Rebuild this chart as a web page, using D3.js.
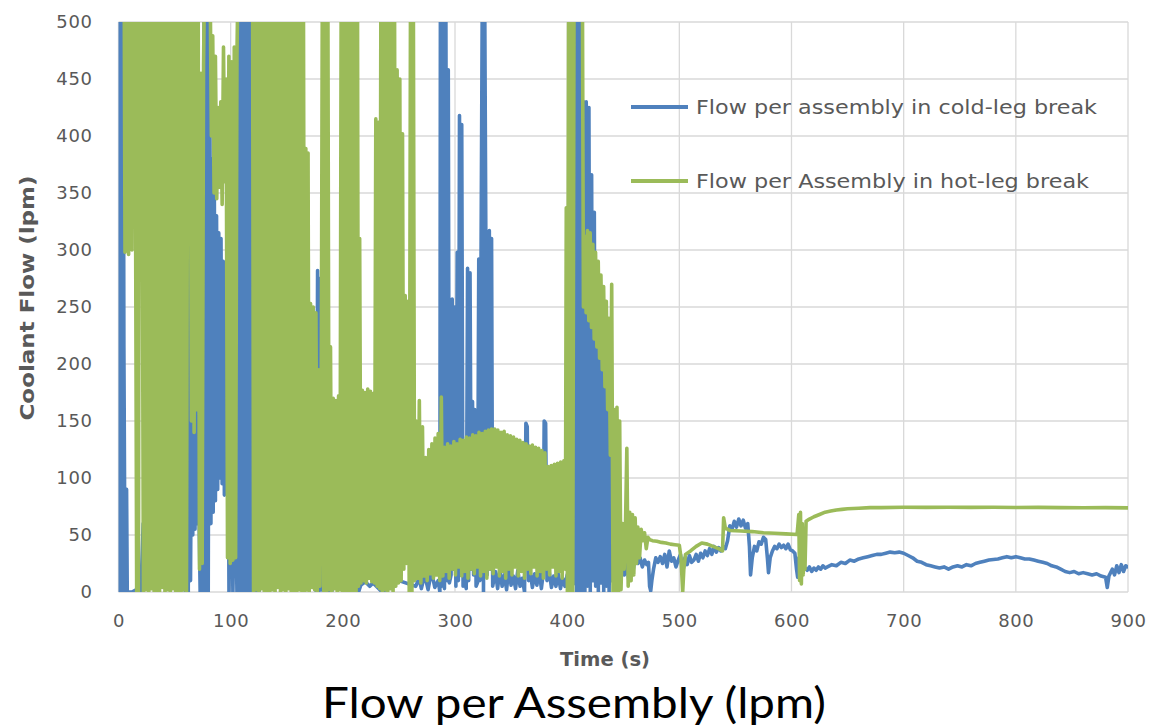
<!DOCTYPE html>
<html><head><meta charset="utf-8">
<script src="https://cdn.jsdelivr.net/npm/d3@7"></script>
<style>body{margin:0;background:#fff}</style>
</head><body>
<svg id="c" width="1150" height="727"></svg>
<script>
// ---- tick labels / categories ----
const xTicks = [0,100,200,300,400,500,600,700,800,900];
const yTicks = [0,50,100,150,200,250,300,350,400,450,500];
const seriesNames = ["Flow per assembly in cold-leg break","Flow per Assembly in hot-leg break"];
const chartTitle = "Flow per Assembly (lpm)";
const xTitle = "Time (s)";
const yTitle = "Coolant Flow (lpm)";

// ---- cold-leg break series [time s, flow lpm] (values above 500 run off the axis) ----
const coldEarly = [[0,0],[0.6,520],[1.2,0],[1.8,530],[2.4,2],[3.0,540],[3.6,0],[4.2,520],[4.8,215],[5.4,90],[6.0,45],[6.6,0],[7.2,90],[7.8,0],[12,0],[16,2],[20,0],[22,60],[30,40],[40,80],[50,20],[60,0],
[61.2,540],[62.2,0],[63.2,540],[64.2,10],[65.2,175],[66.2,50],[67.2,170],[68.2,55],[69.2,160],[70.2,60],[71.5,90],[72.8,0],[74.0,85],[75.2,0],[76.4,540],[77.6,0],[78.8,540],[80.0,0],[81.2,540],[82.4,60],[83.4,380],[84.4,70],[85.4,360],[86.4,80],[87.4,330],[88.4,90],[89.4,315],[90.4,100],[91.4,310],[92.4,95],[93.4,290],[94.4,85],[95.4,270],[96.4,90],[97.4,245],[98.5,0],[100,150],[102,0],[104,120],[105.6,0],[106.6,540],[107.8,0],[109.0,540],[110.2,0],[111.4,540],[112.6,0],[113.8,540],[115.0,0],[116.2,540],[117.4,0],[118.6,540],[119.8,0]];
const coldMid = [[125,0],[140,50],[155,0],[170,20],[176.5,0],[177.5,282],[178.5,0],[179.5,275],[180.5,2],[190,0],[200,40],[214,0],[216,6],[220,9],[224,5],[227,8],[235,0],[250,10],[265,5],[268,12],[270,3],[273,15],[276,2],[279,18],[282,4],[285,10],[286.5,0],[287.0,540],[288.2,5],[289.4,540],[290.6,3],[291.8,540],[293.0,10],[294.0,458],[295.0,8],[296.5,15],[297.5,257],[298.5,20],[299.5,250],[300.8,5],[302.0,298],[303.0,10],[304.0,418],[305.0,15],[306.0,410],[307.2,5],[308.5,12],[310.0,3],[311.2,284],[312.2,10],[313.4,280],[314.6,20],[315.6,167],[316.6,15],[317.6,160],[318.8,5],[320.0,8],[321.2,292],[322.2,10],[323.2,290],[324.4,540],[325.4,0],[326.4,540],[327.6,289],[328.6,15],[329.6,285],[330.6,317],[331.6,20],[332.6,310],[333.6,5],
[336,18],[338,3],[340,20],[342,5],[344,15],[346,2],[348,22],[350,6],[352,14],[354,3],[356,19],[358,5],[360,12],[362,0],[363.2,148],[364.4,145],[365.6,10],[367,18],[369,4],[371,16],[373,6],[375,20],[377,3],[378.5,15],[379.5,150],[380.8,148],[382,10],[384,18],[386,4],[388,14],[390,5],[392,16],[394,3],[396,12],[398,5],[400,15],[403,4],[406,8]];
const coldLate = [[407.2,540],[408.4,0],[409.6,540],[410.8,0],[412.0,540],[413.2,0],[414.6,430],[415.8,0],[417.0,430],[418.2,5],[419.4,425],[420.6,0],[421.8,366],[423.0,10],[424.2,333],[425.4,5],[426.6,238],[427.8,0],[429.0,235],[430.2,8],[431.4,220],[432.6,0],[433.8,183],[435.0,5],[436.2,160],[437.4,0],[438.6,124],[439.8,10],[441.0,80],[442.2,5],[443.4,51],[444.6,8],[445.8,28],
[447,13],[449,28],[451,15],[453,25],[455,10],[457,30],[459,20],[461,34],[463,25],[465,30],[467,22],[469,28],[471,24],[472.5,26],[473.5,5],[474.5,1],[475.5,10],[477,20],[479,30],[481,26],[483,31],[485,25],[487,33],[489,22],[491,36],[493,27],[495,30],[497,22],[499,28],
[501,33],[503,17],[505,30],[507,24],[509,32],[511,26],[513,28],[515,33],[517,27],[519,34],[521,30],[523,36],[525,32],[527,38],[529,33],[531,40],[533,35],[535,39],[537,36],[539,40],[541,38],
[543,45],[545,58],[547,55],[549,62],[551,57],[553,64],[555,58],[557,63],[559,56],[561,60],[562.5,40],[563.5,15],[565,30],[567,40],[569,36],[571,44],[573,42],[575,48],[577,46],[578.5,30],[579.5,17],[581,30],
[583,36],[585,40],[587,38],[589,42],[591,39],[593,41],[595,38],[597,42],[599,37],[601,36],[603,34],[604.5,20],[605.5,13],[606.5,30],[608,20],[610,24],
[612,21],[614,19],[616,22],[618,18],[620,21],[622,19],[624,22],[626,20],[628,23],[630,21],[632,22],
[636,24],[640,23],[644,26],[648,25],[652,28],[656,27],[660,29],[664,30],[668,31],[672,32],[676,33],[680,33],[684,34],[688,35],[692,34.5],[696,35],[700,34],
[704,32],[708,30],[712,27],[716,26],[720,24],[724,23],[728,22],[732,21],[736,22],[740,20],[744,22],[748,23],[752,22],[756,24],[760,23],[764,25],[768,26],[772,27],[776,28],[780,28.5],[784,29],[788,30],[792,31],[796,30],[800,31],
[804,30],[808,29],[812,29],[816,28],[820,27],[824,26],[828,25],[832,23],[836,22],[840,20],[844,18],[848,17],[852,18],[856,16],[860,17],[864,16],[868,15],[872,16],[876,14],[880,13],[881.5,4],[883,14],[886,20],[888,15],[890,23],[892,17],[894,24],[896,18],[898,23],[900,22]];

// ---- hot-leg break series [time s, flow lpm] ----
const hotEarly = [[5.0,560],[5.8,298],[6.6,540],[7.4,305],[8.2,530],[9.0,296],[9.8,545],[10.6,302],[11.4,520],[12.0,300],[12.6,560],[14.5,580],[16.2,0],[17.0,560],[17.8,0],[18.6,560],[20.5,590],
[22.2,0],[23.4,560],[24.6,2],[25.8,560],[27.0,0],[28.2,560],[29.4,3],[30.6,560],[31.8,0],[33.0,560],[34.2,1],[35.4,560],[36.6,0],[37.8,560],[39.0,4],[40.2,560],[41.4,0],[42.6,560],[43.8,2],[45.0,560],[46.2,0],[47.4,560],[48.6,3],[49.8,560],[51.0,0],[52.2,560],[53.4,1],[54.6,560],[55.8,0],[57.0,560],[58.2,2],[59.4,560],[60.6,0],[61.8,560],[63.5,600],
[65.0,150],[66.2,560],[67.4,140],[68.6,560],[69.8,160],[71.0,540],[72.2,20],[73.4,455],[74.6,25],[75.8,462],[77.0,560],[81.5,560],[82.8,400],[84.0,488],[85.2,350],[86.4,470],[87.6,345],[88.8,425],[90.0,355],[91.2,430],[92.4,340],[93.6,478],[94.8,360],[96.0,450],[97.2,30],[98.4,470],[99.6,25],[100.8,465],[102.0,28],[103.2,478],[104.4,30],[105.6,470],[107.0,570],[119.5,570]];
const hotMid = [[120.4,0],[121.6,560],[122.8,2],[124.0,560],[125.2,0],[126.4,560],[127.6,3],[128.8,560],[130.0,0],[131.2,560],[132.4,1],[133.6,560],[134.8,0],[136.0,560],[137.2,2],[138.4,560],[139.6,0],[140.8,560],[142.0,4],[143.2,560],[144.4,0],[145.6,560],[146.8,2],[148.0,560],[149.2,0],[150.4,560],[151.6,3],[152.8,560],[154.0,0],[155.2,560],[156.4,1],[157.6,560],[158.8,0],[160.0,560],[161.2,2],[162.4,560],[163.6,0],[164.8,560],[166.0,0],
[167.0,389],[168.0,2],[169.0,385],[170.0,0],[171.2,253],[172.4,4],[173.6,250],[174.8,2],[176.0,245],[177.2,0],[178.4,195],[179.6,5],[180.8,190],[181.8,560],[183.0,0],[184.2,560],[185.4,0],[186.6,560],[187.8,2],[189.0,215],[190.2,0],[191.4,170],[192.6,3],[193.8,168],[195.0,0],[196.2,172],[197.4,2],
[198.6,560],[199.8,0],[201.0,560],[202.2,0],[203.4,560],[204.6,0],[205.8,560],[207.0,0],[208.2,560],[209.4,0],[210.6,560],[211.8,0],[213.0,560],[214.0,5],[215.0,310],[216.2,8],[217.4,177],[218.6,10],[219.8,175],[221.0,8],[222.2,178],[223.4,12],[224.6,176],[225.8,9],[227.0,174],[228.2,8],[229.4,415],[230.6,5],[231.8,412],[232.8,3],
[234.0,560],[235.2,0],[236.4,560],[237.6,2],[238.8,560],[240.0,0],[241.2,560],[242.4,3],[243.6,560],[244.8,0],[246.0,560],[247.2,5],[248.4,458],[249.6,8],[250.8,450],[252.0,10],[253.2,402],[254.4,20],[255.6,260],[256.8,25],[258.0,255],[259.2,0],[260.4,560],[261.6,0],[262.8,560]];
const hotOscillation = [[264.0,10],[265.4,150],[266.8,12],[268.2,168],[269.6,8],[271.0,145],[272.4,14],[273.8,118],[275.2,10],[276.6,125],[278.0,16],[279.4,130],[280.8,12],[282.2,135],[283.6,15],[285.0,139],[286.4,10],[287.8,171],[289.2,14],[290.6,127],[292.0,18],[293.4,130],[294.8,12],[296.2,128],[297.6,20],[299.0,132],[300.4,15],[301.8,130],[303.2,22],[304.6,134],[306.0,14],[307.4,133],[308.8,18],[310.2,136],[311.6,12],[313.0,135],[314.4,20],[315.8,138],[317.2,16],[318.6,137],[320.0,22],[321.4,140],[322.8,14],[324.2,139],[325.6,18],[327.0,141],[328.4,12],[329.8,142],[331.2,20],[332.6,143],[334.0,16],[335.4,143],[336.8,22],[338.2,142],[339.6,14],[341.0,140],[342.4,18],[343.8,141],[345.2,12],[346.6,138],[348.0,20],[349.4,137],[350.8,15],[352.2,136],[353.6,22],[355.0,134],[356.4,14],[357.8,133],[359.2,18],[360.6,131],[362.0,12],[363.4,130],[364.8,20],[366.2,128],[367.6,16],[369.0,129],[370.4,22],[371.8,127],[373.2,14],[374.6,126],[376.0,18],[377.4,124],[378.8,12],[380.2,122],[381.6,20],[383.0,110],[384.4,15],[385.8,111],[387.2,22],[388.6,112],[390.0,14],[391.4,113],[392.8,18],[394.2,114],[395.6,12],[397.0,115],[398.4,20],[399.2,337],[400.2,0]];
const hotLate = [[401.4,560],[402.6,0],[403.8,560],[405.0,0],[406.2,560],[410,580],[413.5,560],[414.5,250],[415.7,312],[416.9,245],[418.1,317],[419.3,238],[420.5,315],[421.7,232],[422.9,305],[424.1,222],[425.3,298],[426.5,215],[427.7,290],[428.9,205],[430.1,278],[431.3,195],[432.5,268],[433.7,180],[434.9,255],[436.1,160],[437.3,240],[438.5,120],[439.7,270],[440.9,0],
[442.0,160],[443.2,0],[444.4,162],[445.6,0],[446.8,150],[448.0,2],[449.5,60],[450.8,20],[452.0,58],[453.2,126],[454.4,5],[455.8,70],[457.0,10],[458.2,68],[459.4,15],[460.6,65],[461.8,25],[463.0,57],[464.5,30],[466.0,55],[467.5,45],[469.0,52],[470.5,38],[472.0,48],[473.5,46],
[476,45],[480,44.5],[484,43.5],[488,43],[492,42],[496,41.5],[500,41],[501.5,30],[503,0],[504,20],[505.5,33],[510,36],[515,40],[520,43],[525,42],[530,40],[535,38],[538.5,36],[539.5,65],[541,56],[545,54],[555,53.5],[565,53],[575,52],[585,51.5],[595,51],[605,50.5],
[606.5,68],[607.2,10],[608,70],[608.8,7],[609.6,60],[610.4,15],[611.2,50],[612,20],[613,62],[616,64],[620,66],[625,68],[630,70],[635,71],[640,72],[645,72.5],[650,73],[660,73.5],[670,74],[680,74],[700,74.3],[720,74.2],[740,74.4],[760,74.2],[780,74.3],[800,74.1],[820,74.2],[840,74],[860,73.9],[880,74],[900,73.8]];

const coldLeg = coldEarly.concat(coldMid, coldLate);
const hotLeg = hotEarly.concat(hotMid, hotOscillation, hotLate);
const colors = ["#4F81BD", "#9BBB59"];

// ---- layout ----
const plot = {left: 118.5, right: 1128, top: 22, bottom: 592};
const svg = d3.select("#c");
const x = d3.scaleLinear().domain([0, 900]).range([plot.left, plot.right]);
const y = d3.scaleLinear().domain([0, 500]).range([plot.bottom, plot.top]);
const grey = "#595959";
const gridColor = "#d9d9d9";

// gridlines
svg.append("g").selectAll("line").data(yTicks).join("line")
  .attr("x1", plot.left).attr("x2", plot.right)
  .attr("y1", d => y(d)).attr("y2", d => y(d))
  .attr("stroke", gridColor).attr("stroke-width", 1.3);
svg.append("g").selectAll("line").data(xTicks).join("line")
  .attr("x1", d => x(d)).attr("x2", d => x(d))
  .attr("y1", plot.top).attr("y2", plot.bottom)
  .attr("stroke", gridColor).attr("stroke-width", 1.3);

// clip
svg.append("defs").append("clipPath").attr("id", "clip")
  .append("rect").attr("x", plot.left).attr("y", plot.top)
  .attr("width", plot.right - plot.left).attr("height", plot.bottom - plot.top);

const line = d3.line().x(d => x(d[0])).y(d => y(d[1]));
const g = svg.append("g").attr("clip-path", "url(#clip)");
[coldLeg, hotLeg].forEach((s, i) => {
  g.append("path").datum(s).attr("d", line)
    .attr("fill", "none").attr("stroke", colors[i]).attr("stroke-width", 3.6)
    .attr("stroke-linejoin", "round").attr("stroke-linecap", "round");
});

// axes
const tickFont = "'DejaVu Sans', sans-serif";
const xAxis = svg.append("g").attr("transform", `translate(0,${plot.bottom})`)
  .call(d3.axisBottom(x).tickValues(xTicks).tickSize(0).tickPadding(22).tickFormat(d3.format("d")));
const yAxis = svg.append("g").attr("transform", `translate(${plot.left},0)`)
  .call(d3.axisLeft(y).tickValues(yTicks).tickSize(0).tickPadding(26).tickFormat(d3.format("d")));
[xAxis, yAxis].forEach(a => {
  a.select(".domain").remove();
  a.selectAll("text").attr("fill", grey).style("font-family", tickFont)
    .style("font-size", "18px").style("letter-spacing", "0.6px");
});

// axis titles
svg.append("text").attr("x", 605).attr("y", 666).attr("text-anchor", "middle")
  .attr("fill", grey).style("font-family", tickFont).style("font-weight", "bold")
  .style("font-size", "19px").attr("textLength", 90).attr("lengthAdjust", "spacingAndGlyphs").text(xTitle);
svg.append("text").attr("transform", "translate(34,298) rotate(-90)").attr("text-anchor", "middle")
  .attr("fill", grey).style("font-family", tickFont).style("font-weight", "bold")
  .style("font-size", "19px").attr("textLength", 245).attr("lengthAdjust", "spacingAndGlyphs").text(yTitle);

// legend
const legY = [107, 181];
seriesNames.forEach((n, i) => {
  svg.append("line").attr("x1", 631).attr("x2", 688).attr("y1", legY[i]).attr("y2", legY[i])
    .attr("stroke", colors[i]).attr("stroke-width", 4);
  svg.append("text").attr("x", 696).attr("y", legY[i] + 7).attr("fill", grey)
    .style("font-family", tickFont).style("font-size", "19px")
    .attr("textLength", i === 0 ? 401 : 393).attr("lengthAdjust", "spacingAndGlyphs").text(n);
});

// chart title
svg.append("text").attr("x", 574).attr("y", 718).attr("text-anchor", "middle")
  .attr("fill", "#000").style("font-family", "Lato, sans-serif").style("font-size", "42px")
  .attr("textLength", 504).attr("lengthAdjust", "spacingAndGlyphs").text(chartTitle);
</script>
</body></html>
